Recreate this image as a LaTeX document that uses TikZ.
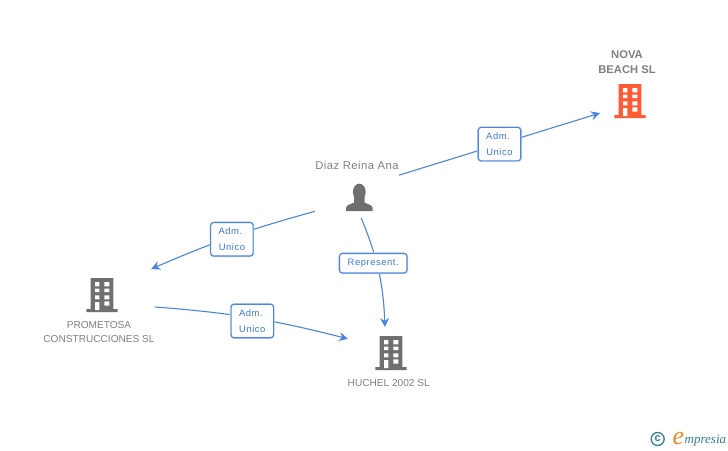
\documentclass[tikz,border=0pt]{standalone}
\usepackage{fontspec}
\setmainfont{Liberation Sans}
\newfontfamily\boxfont[LetterSpace=6]{Liberation Sans}
\newfontfamily\namefont[LetterSpace=4]{Liberation Sans}
\newfontfamily\logofont[Ligatures=TeX]{Liberation Serif}
\usetikzlibrary{arrows.meta,positioning}
\definecolor{linkblue}{HTML}{4A86DF}
\definecolor{textblue}{HTML}{3B78D8}
\definecolor{labelgrey}{HTML}{808080}
\definecolor{icongrey}{HTML}{6F6F6F}
\definecolor{iconorange}{HTML}{FF5C35}
\definecolor{logoteal}{HTML}{2F7F96}
\definecolor{logoorange}{HTML}{F28A1E}
\tikzset{holder/.style = {rectangle,inner sep=0pt,outer sep=0pt},
        link/.style = {-{Stealth[length=9pt,width=9pt,inset=3pt]},linkblue,line width=1.1pt},
        role/.style = {rectangle,rounded corners=3pt,draw=linkblue,line width=1.1pt,preaction={draw=linkblue!30,line width=2.2pt},fill=white,inner sep=0pt,text=textblue,font=\boxfont\fontsize{9.4}{15.5}\selectfont,align=center},
        adm/.style = {role,minimum width=42.5pt,minimum height=33.5pt},
        tag/.style = {anchor=base,text=labelgrey,inner sep=0pt,font=\fontsize{10.1}{12}\selectfont},
        boldtag/.style = {tag,font=\bfseries\fontsize{11.2}{12}\selectfont}
}
\newcommand\Office[3]{%
    \begin{scope}[shift={(#1,#2)}]
    \fill[#3] (-11.3,0) rectangle (11.3,-31) (-15.7,-31) rectangle (15.7,-34);
    \foreach \y/\h in {4/4.3,10.7/3.5,17.3/4}{
        \fill[white] (-7,-\y) rectangle ++(4.4,-\h) (2.3,-\y) rectangle ++(5,-\h);
    }
    \fill[white] (-7,-24) rectangle (-2.6,-32) (2.3,-23.3) rectangle (7.3,-27.5);
    \end{scope}
}
\begin{document}
\begin{tikzpicture}[x=1pt,y=1pt]
    \useasboundingbox (0,0) rectangle (728,-450);
    \fill[white] (0,0) rectangle (728,-450);
    % the holders are empty, links stop at their borders
    \node[holder,minimum width=84pt,minimum height=60pt] (diaz) at (357,-188) {};
    \node[holder,minimum width=60pt,minimum height=74pt] (nova) at (630,-82) {};
    \node[holder,minimum width=105pt,minimum height=76pt] (prometosa) at (102.5,-307) {};
    \node[holder,minimum width=86pt,minimum height=62pt] (huchel) at (391,-358) {};

    \Office{630}{-84}{iconorange}
    \Office{102}{-278}{icongrey}
    \Office{391}{-336}{icongrey}
    \fill[icongrey] (359.3,-192) ellipse (6.4 and 8.3);
    \fill[icongrey] (346,-211) -- (346,-208) .. controls (346.3,-204.5) and (351,-204.5) .. (354,-202.5)
        -- (354,-197) -- (364.6,-197) -- (364.6,-202.5) .. controls (367.5,-204.5) and (372.4,-204.5) .. (372.7,-208) -- (372.7,-211) -- cycle;

    \node[boldtag] (novaname) at (627,-58.3) {NOVA};
    \node[boldtag] (novaname2) at (627,-73.3) {BEACH SL};
    \node[tag,font=\namefont\fontsize{11.3}{12}\selectfont] (diazname) at (357,-169) {Diaz Reina Ana};
    \node[tag] (promname) at (99,-328) {PROMETOSA};
    \node[tag] (promname2) at (99,-342.7) {CONSTRUCCIONES SL};
    \node[tag] (huchelname) at (388.7,-386) {HUCHEL 2002 SL};

    \draw[link] (diaz.17) -- node[adm,pos=.5] (admnova) {Adm.\kern3pt\\Unico} (nova.226);
    \draw[link] (diaz.209.7) to[bend right=4] node[adm,pos=.5,yshift=-2.5pt] (admprom) {Adm.\kern3pt\\Unico} (prometosa.38);
    \draw[link] (diaz.-82.4) to[bend left=10] node[role,pos=.42,xshift=-3.5pt,minimum width=67.5pt,minimum height=19.5pt] (represent) {Represent.} (huchel.101);
    \draw[link] (prometosa.east) to[bend left=5] node[adm,pos=.5,yshift=-3pt] (admhuchel) {Adm.\kern3pt\\Unico} (huchel.156.2);

    % logo
    \node[circle,draw=logoteal,line width=1.3pt,minimum size=13pt,inner sep=0pt,text=logoteal,font=\bfseries\fontsize{11}{11}\selectfont] (logoring) at (657.7,-439) {c};
    \node[anchor=base west,inner sep=0pt,text=logoorange,font=\logofont\itshape\fontsize{26}{26}\selectfont] (logoe) at (672.5,-444) {e};
    \node[anchor=base west,inner sep=0pt,text=logoteal,font=\logofont\itshape\fontsize{13}{14}\selectfont] (logotext) at (684.5,-443) {mpresia};
\end{tikzpicture}
\end{document}
